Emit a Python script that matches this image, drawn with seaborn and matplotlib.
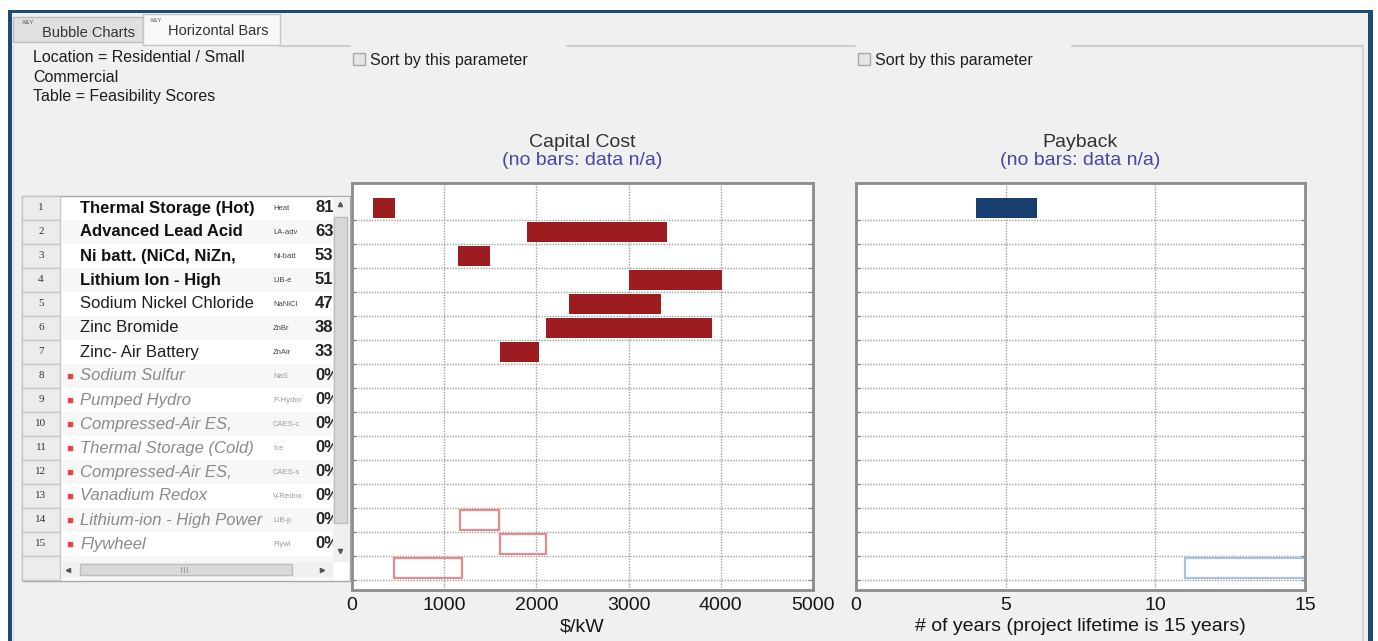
import numpy as np
import pandas as pd
import seaborn as sns
import matplotlib.pyplot as plt
from matplotlib.patches import Rectangle

sns.set_style('white')
plt.rcParams['font.family'] = ['Liberation Sans', 'DejaVu Sans']

# ---- data ----
row_ids = [str(i) for i in range(1, 17)]   # row 16 is hidden under the scrollbar
tech_names = ['Thermal Storage (Hot)', 'Advanced Lead Acid', 'Ni batt. (NiCd, NiZn,',
              'Lithium Ion - High', 'Sodium Nickel Chloride', 'Zinc Bromide',
              'Zinc- Air Battery', 'Sodium Sulfur', 'Pumped Hydro', 'Compressed-Air ES,',
              'Thermal Storage (Cold)', 'Compressed-Air ES,', 'Vanadium Redox',
              'Lithium-ion - High Power', 'Flywheel']
tech_abbr = ['Heat', 'LA-adv', 'Ni-batt', 'LIB-e', 'NaNiCl', 'ZnBr', 'ZnAir', 'NaS',
             'P-Hydro', 'CAES-c', 'Ice', 'CAES-s', 'V-Redox', 'LIB-p', 'Flywl']
scores = ['81%', '63%', '53%', '51%', '47%', '38%', '33%', '0%', '0%', '0%', '0%',
          '0%', '0%', '0%', '0%']
n_feasible = 7

# capital cost, $/kW
cap_rows = ['1', '2', '3', '4', '5', '6', '7']
cap_lo = [230, 1900, 1150, 3000, 2350, 2100, 1600]
cap_hi = [470, 3420, 1500, 4010, 3350, 3900, 2030]
cap_na_rows = ['14', '15', '16']
cap_na_lo = [1170, 1600, 460]
cap_na_hi = [1590, 2100, 1190]

# payback, years
pay_rows = ['1']
pay_lo = [4.0]
pay_hi = [6.05]
pay_na_rows = ['16']
pay_na_lo = [11.0]
pay_na_hi = [15.0]

W, H = 1378, 641
fig = plt.figure(figsize=(W / 100, H / 100), dpi=100, facecolor='white')

# ---- window chrome / table drawn in pixel coordinates ----
bg = fig.add_axes([0, 0, 1, 1], zorder=0)
bg.set_xlim(0, W)
bg.set_ylim(H, 0)
bg.axis('off')

def rect(x0, y0, x1, y1, fc, ec='none', lw=1, z=1):
    bg.add_patch(Rectangle((x0, y0), x1 - x0, y1 - y0, facecolor=fc, edgecolor=ec, lw=lw, zorder=z))

rect(8, 10, 1373, H, '#f0f0f0')
rect(8, 10, 12, H, '#1d4b73', z=5)
rect(8, 10, 1373, 13, '#1d4b73', z=5)
rect(1368, 10, 1373, H, '#1d4b73', z=5)

# tabs
rect(13, 17, 143, 42, '#e0e0e0', '#bcbcbc')
rect(143, 14, 280, 45, '#f8f8f8', '#c4c4c4')
bg.text(22, 22, 'X&Y', fontsize=4.5, color='#555', va='center')
bg.text(42, 33, 'Bubble Charts', fontsize=10.5, color='#333', va='center')
bg.text(150, 20, 'X&Y', fontsize=4.5, color='#555', va='center')
bg.text(168, 31, 'Horizontal Bars', fontsize=10.5, color='#333', va='center')

# group box lines
for x0, x1 in [(280, 350), (567, 855), (1072, 1363)]:
    bg.plot([x0, x1], [46, 46], color='#d2cbcb', lw=1.5, zorder=2)
bg.plot([1363, 1363], [46, H], color='#d4d4d4', lw=1.5, zorder=2)
bg.plot([13, 13], [46, H], color='#dadada', lw=1, zorder=2)

for tx, ly in [('Location = Residential / Small', 58), ('Commercial', 77), ('Table = Feasibility Scores', 97)]:
    bg.text(33, ly, tx, fontsize=11.5, color='#1e1e1e', va='center')

for bx in [353, 858]:
    rect(bx, 53, bx + 12, 65, '#e6e6e6', '#a8a8a8')
    bg.text(bx + 17, 60, 'Sort by this parameter', fontsize=11.5, color='#1e1e1e', va='center')

# table
top, rh = 196, 24
rect(22, top, 350, 581, 'white', '#a8a8a8', z=1)
for i in range(16):
    y0 = top + i * rh
    rect(22, y0, 60, y0 + rh, '#ececec', '#c8c8c8', z=2)
    if i % 2 == 1:
        rect(60, y0, 333, y0 + rh, '#f7f7f7', z=1.5)
clip_box = Rectangle((60, top), 273, 16 * rh, transform=bg.transData)
for i, name in enumerate(tech_names):
    yc = top + i * rh + 12
    bg.text(41, yc, row_ids[i], fontsize=8, family='Liberation Serif', ha='center', va='center', color='#333', zorder=3)
    if i < 4:
        kw = dict(color='#111', fontweight='bold')
    elif i < n_feasible:
        kw = dict(color='#1e1e1e')
    else:
        kw = dict(color='#8a8a8a', style='italic')
        bg.plot(70, yc, marker='s', ms=3.5, color='#e04848', zorder=3)
    bg.text(80, yc, name, fontsize=12, va='center', zorder=3, **kw)
    bg.text(273, yc, tech_abbr[i], fontsize=5.5, va='center', zorder=3,
            color='#444' if i < n_feasible else '#999')
    t = bg.text(315, yc, scores[i], fontsize=12, fontweight='bold', va='center', zorder=3, color='#222')
    t.set_clip_path(clip_box)

# scrollbars
rect(333, top + 1, 349, 562, '#f0f0f0', z=4)
rect(334, 217, 347, 523, '#d8d8d8', '#bdbdbd', z=4)
bg.plot(340, 204, marker='^', ms=3, color='#555', zorder=5)
bg.plot(340, 551, marker='v', ms=3, color='#555', zorder=5)
rect(61, 562, 333, 577, '#f0f0f0', z=4)
rect(80, 564, 292, 575, '#d9d9d9', '#bdbdbd', z=4)
bg.plot(68, 569.5, marker='<', ms=3, color='#555', zorder=5)
bg.plot(322, 569.5, marker='>', ms=3, color='#555', zorder=5)
for gx in [181, 184, 187]:
    bg.plot([gx, gx], [567, 572], color='#a0a0a0', lw=0.8, zorder=5)


# ---- the two range-bar charts ----
def range_bars(ax, rows, lo, hi, color, filled):
    d = pd.DataFrame({'row': rows, 'lo': lo, 'hi': hi})
    d['span'] = d['hi'] - d['lo']
    if filled:
        kw = dict(linewidth=0)
    else:
        kw = dict(fill=False, linewidth=1.6)
    sns.barplot(data=d, x='span', y='row', order=row_ids, orient='h', left=d['lo'].to_numpy(),
                color=color, saturation=1, width=0.82, errorbar=None, ax=ax, **kw)


def style_axes(ax, xmax, xticks, xlabel, title):
    ax.set_facecolor('white')
    ax.set_xlim(0, xmax)
    ax.set_ylim(15.92, -1.04)
    ax.set_xticks(xticks)
    ax.set_yticks(np.arange(16) + 0.5)
    ax.set_yticklabels([])
    ax.tick_params(axis='x', length=0, labelsize=14, pad=5, colors='#151515')
    ax.tick_params(axis='y', direction='in', length=3, left=True, right=True, color='#777')
    ax.grid(True, linestyle=(0, (1, 1)), color='#a0a0a0', lw=1)
    ax.set_axisbelow(True)
    for s in ax.spines.values():
        s.set_visible(True)
        s.set_color('#8c8c8c')
        s.set_linewidth(2)
    ax.set_ylabel('')
    ax.set_xlabel(xlabel, fontsize=14, labelpad=3, color='#151515')
    ax.text(0.5, 1.10, title, transform=ax.transAxes, ha='center', va='center', fontsize=14, color='#333')
    ax.text(0.5, 1.056, '(no bars: data n/a)', transform=ax.transAxes, ha='center', va='center',
            fontsize=14, color='#4a46a6')


ax_top, ax_bot = 183, 590
ax1 = fig.add_axes([352 / W, 1 - ax_bot / H, (813 - 352) / W, (ax_bot - ax_top) / H], zorder=1)
range_bars(ax1, cap_rows, cap_lo, cap_hi, '#9d1c20', True)
range_bars(ax1, cap_na_rows, cap_na_lo, cap_na_hi, '#e68a8c', False)
style_axes(ax1, 5000, [0, 1000, 2000, 3000, 4000, 5000], '$/kW', 'Capital Cost')

ax2 = fig.add_axes([856 / W, 1 - ax_bot / H, (1305 - 856) / W, (ax_bot - ax_top) / H], zorder=1)
range_bars(ax2, pay_rows, pay_lo, pay_hi, '#173e6f', True)
range_bars(ax2, pay_na_rows, pay_na_lo, pay_na_hi, '#a9c3dc', False)
style_axes(ax2, 15, [0, 5, 10, 15], '# of years (project lifetime is 15 years)', 'Payback')

fig.savefig('out.png', dpi=100)
